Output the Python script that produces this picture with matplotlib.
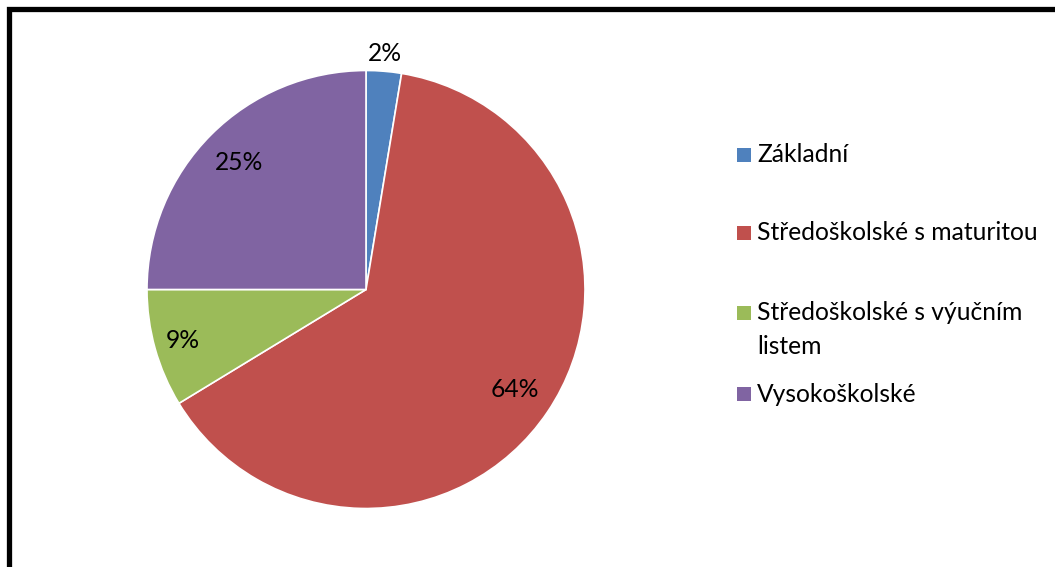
import matplotlib
matplotlib.use("Agg")
import matplotlib.pyplot as plt
from matplotlib.patches import Rectangle
import numpy as np

categories = ["Základní", "Středoškolské s maturitou", "Středoškolské s výučním\nlistem", "Vysokoškolské"]
values = [2.6, 63.7, 8.7, 25.0]
pct_labels = ["2%", "64%", "9%", "25%"]
colors = ["#4F81BD", "#C0504D", "#9BBB59", "#8064A2"]

W, H = 1055, 567
fig = plt.figure(figsize=(W / 100, H / 100), dpi=100)
ax = fig.add_axes([0, 0, 1, 1])

cx, cy, R = 366, H - 289.5, 219
wedges, _ = ax.pie(values, colors=colors, startangle=90, counterclock=False,
                   center=(cx, cy), radius=R, frame=True,
                   wedgeprops=dict(edgecolor="white", linewidth=1.2))
ax.set_xlim(0, W)
ax.set_ylim(0, H)
ax.set_aspect("equal")
ax.axis("off")

font = "Lato"
fs = 17.7
dists = [1.08, 0.82, 0.87, 0.82]
for w, lab, d in zip(wedges, pct_labels, dists):
    ang = np.deg2rad((w.theta1 + w.theta2) / 2)
    x = cx + d * R * np.cos(ang)
    y = cy + d * R * np.sin(ang)
    ax.text(x, y, lab, ha="center", va="center", fontsize=fs, family=font, color="black")

# legend (manual)
leg_y = [155, 233, 313, 394]
line_gap = 34
for yy, cat, col in zip(leg_y, categories, colors):
    ax.add_patch(Rectangle((737, H - yy - 7), 14, 14, facecolor=col, edgecolor="none"))
    for i, line in enumerate(cat.split("\n")):
        ax.text(757, H - yy - i * line_gap, line, ha="left", va="center",
                fontsize=fs, family=font, color="black")

# chart border
ax.add_patch(Rectangle((9, -20), W + 20, H - 8.5 + 20, facecolor="none",
                       edgecolor="black", linewidth=3.8, clip_on=False))

fig.savefig("out.png", dpi=100, facecolor="white")
